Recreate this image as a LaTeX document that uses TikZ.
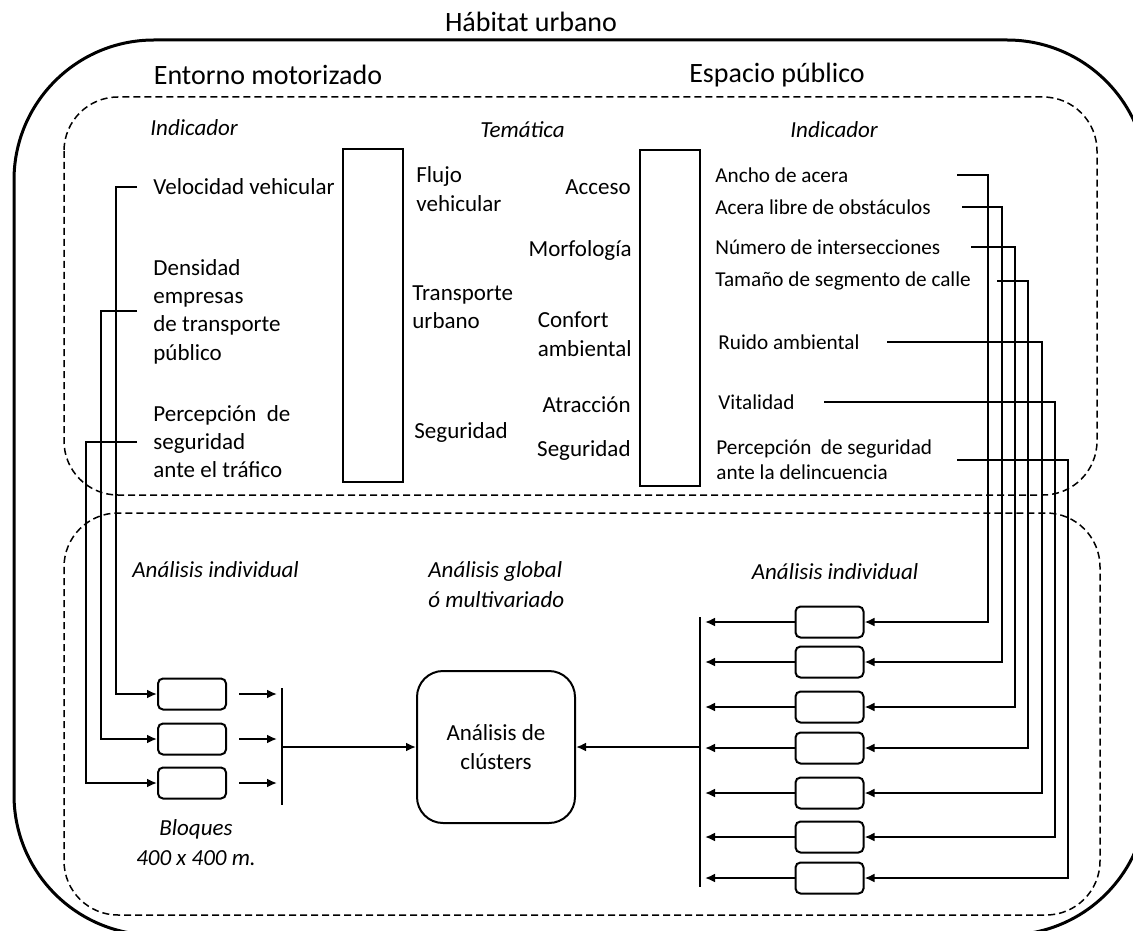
\documentclass[tikz,border=0pt]{standalone}
\usepackage{fontspec}
\setmainfont{Carlito}
\usetikzlibrary{arrows.meta,positioning}
\tikzset{
  habitat/.style={draw,line width=1.5pt,rounded corners=70pt},
  zone/.style={draw,line width=0.75pt,dash pattern=on 3.5pt off 2pt,rounded corners=27pt},
  head/.style={font=\fontsize{14}{17}\selectfont,inner sep=0pt},
  lbl/.style={font=\fontsize{11.5}{14.2}\selectfont,align=left,inner sep=0pt},
  sml/.style={font=\fontsize{10.6}{12.5}\selectfont,align=left,inner sep=0pt},
  ital/.style={font=\fontsize{11.5}{15}\selectfont\itshape,align=left,inner sep=0pt},
  col/.style={draw,line width=1pt,minimum width=30pt,inner sep=0pt},
  blk/.style={draw,line width=1pt,rounded corners=2.5pt,minimum width=34pt,minimum height=15.5pt,inner sep=0pt},
  clbox/.style={draw,line width=1pt,rounded corners=13pt,minimum width=79pt,minimum height=76pt,align=center,
    font=\fontsize{11.5}{14.2}\selectfont},
  link/.style={line width=1pt},
  arr/.style={link,-{Latex[length=5pt,width=4.5pt]}},
}

\begin{document}
\begin{tikzpicture}[x=0.5pt,y=-0.5pt]
\useasboundingbox (0,0) rectangle (1133,930);
\begin{scope}
\clip (0,0) rectangle (1133,930);
\draw[habitat] (14,40) rectangle (1147,935);
\end{scope}
\draw[zone] (64,97) rectangle (1097,495);
\draw[zone] (64,513) rectangle (1100,915);

\node[head] (hab) at (531,22) {Hábitat urbano};
\node[head] (ent) at (268,75) {Entorno motorizado};
\node[head] (esp) at (777,75) {Espacio público};

\node[ital,anchor=west] (indL) at (150,128) {Indicador};
\node[ital,anchor=west] (tem) at (480,130) {Temática};
\node[ital,anchor=west] (indR) at (790,130) {Indicador};

\node[lbl,anchor=west] (vel) at (153,187) {Velocidad vehicular};
\node[lbl,anchor=west] (dens) at (153,311.5) {Densidad\\empresas\\de transporte\\público};
\node[lbl,anchor=west] (perc) at (153,441.5) {Percepción~ de\\seguridad\\ante el tráfico};

\node[col,minimum height=166.5pt] (colL) at (373,315.5) {};
\node[col,minimum height=168pt] (colR) at (670,318) {};

\node[lbl,anchor=west] (flujo) at (416,189) {Flujo\\vehicular};
\node[lbl,anchor=west] (transp) at (412,307.5) {Transporte\\urbano};
\node[lbl,anchor=west] (segA) at (414,432) {Seguridad};

\node[lbl,anchor=east] (acceso) at (631,187) {Acceso};
\node[lbl,anchor=east] (morfo) at (632,250) {Morfología};
\node[lbl,anchor=east] (confort) at (632,334) {Confort\\ambiental};
\node[lbl,anchor=east] (atrac) at (631,405) {Atracción};
\node[lbl,anchor=east] (segB) at (631,450) {Seguridad};

\node[sml,anchor=west] (ancho) at (715,175) {Ancho de acera};
\node[sml,anchor=west] (acera) at (715,207) {Acera libre de obstáculos};
\node[sml,anchor=west] (numero) at (715,247) {Número de intersecciones};
\node[sml,anchor=west] (tamano) at (715,281) {Tamaño de segmento de calle};
\node[sml,anchor=west] (ruido) at (718,342) {Ruido ambiental};
\node[sml,anchor=west] (vital) at (718,402) {Vitalidad};
\node[sml,anchor=west] (seguro) at (716,459.5) {Percepción~ de seguridad\\ante la delincuencia};

\node[ital,anchor=west] (indivL) at (132,570) {Análisis individual};
\node[ital,anchor=west] (glob) at (428,585) {Análisis global\\ó multivariado};
\node[ital] (indivR) at (835,572) {Análisis individual};
\node[ital,align=center] (bloq) at (196,843) {Bloques\\400 x 400 m.};

\foreach \y [count=\i] in {694,739,783}
  \node[blk] (b\i) at (192,\y) {};
\foreach \y [count=\i] in {622,662,707,748,793,837,878}
  \node[blk] (r\i) at (829.5,\y) {};

\node[clbox] (clus) at (496,747) {Análisis de\\clústers};

\coordinate (lt) at (282,688);
\coordinate (lb) at (282,805);
\coordinate (rt) at (700,617);
\coordinate (rb) at (700,887);
\draw[link] (lt) -- (lb);
\draw[link] (rt) -- (rb);

\foreach \n/\r [count=\i] in {vel/116,dens/101,perc/86}
  \draw[arr] ([xshift=-8pt]\n.west) -| (\r,0 |- b\i.west) -- (b\i.west);
\foreach \i in {1,2,3}
  \draw[arr,shorten >=2.5pt] ([xshift=6pt]b\i.east) -- (b\i.east -| lt);
\draw[arr] (lt |- clus) -- (clus.west);

\foreach \n/\s/\r [count=\i] in {ancho/957/988,acera/962/1002,numero/971/1015,tamano/997/1028,
    ruido/887/1042,vital/824/1055,seguro/957/1068}
  \draw[arr] (\n.west -| \s,0) -| (\r,0 |- r\i.east) -- (r\i.east);
\foreach \i in {1,...,7}
  \draw[arr,shorten >=2.5pt] (r\i.west) -- (r\i.west -| rt);
\draw[arr] (rt |- clus) -- (clus.east);
\end{tikzpicture}
\end{document}
